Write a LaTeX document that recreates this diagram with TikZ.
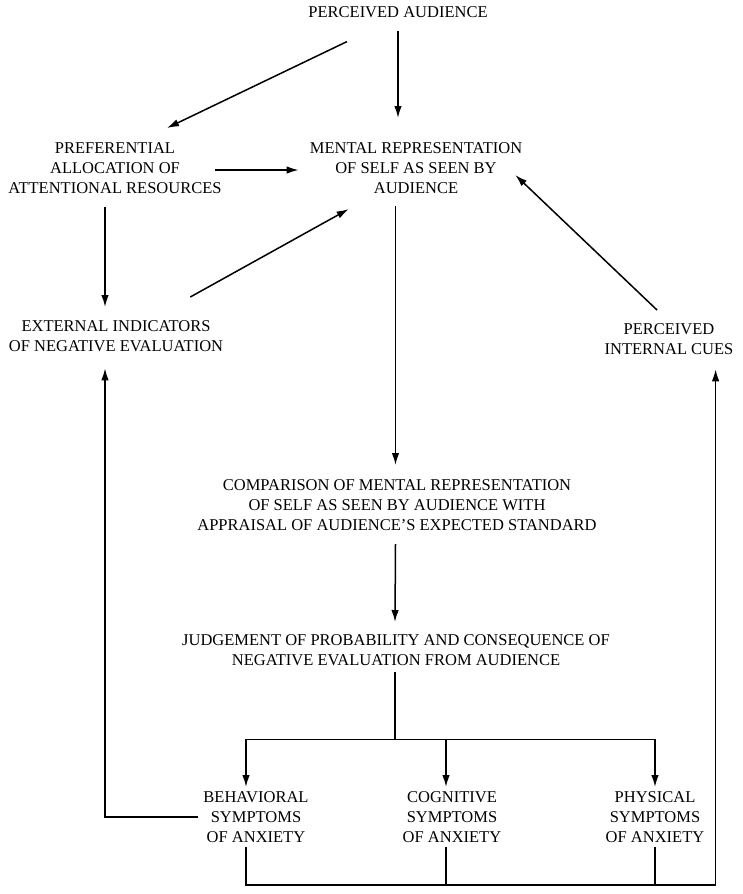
\documentclass[tikz,border=0pt]{standalone}
\usepackage{fontspec}
\setmainfont{Liberation Serif}
\usetikzlibrary{arrows.meta,calc}

\begin{document}
\begin{tikzpicture}[x=1pt, y=-1pt, font=\fontsize{16.5}{19.8}\selectfont,
  txt/.style={align=center, inner sep=0pt, anchor=north},
  arr/.style={-{Latex[length=12pt,width=7.5pt]}, line width=1.5pt},
  wire/.style={line width=1.5pt}]
  \useasboundingbox (0,0) rectangle (742,894);
  % Text blocks
  \node[txt] (aud) at (398,6.5) {PERCEIVED AUDIENCE};
  \node[txt] (pref) at (115,142.5) {PREFERENTIAL\\ALLOCATION OF\\ATTENTIONAL RESOURCES};
  \node[txt] (ment) at (416,142.5) {MENTAL REPRESENTATION\\OF SELF AS SEEN BY\\AUDIENCE};
  \node[txt] (ext) at (116,320.5) {EXTERNAL INDICATORS\\OF NEGATIVE EVALUATION};
  \node[txt] (cues) at (669,323.5) {PERCEIVED\\INTERNAL CUES};
  \node[txt] (comp) at (397,479.5) {COMPARISON OF MENTAL REPRESENTATION\\OF SELF AS SEEN BY AUDIENCE WITH\\APPRAISAL OF AUDIENCE’S EXPECTED STANDARD};
  \node[txt] (judg) at (396,634.5) {JUDGEMENT OF PROBABILITY AND CONSEQUENCE OF\\NEGATIVE EVALUATION FROM AUDIENCE};
  \node[txt] (beh) at (256,791.5) {BEHAVIORAL\\SYMPTOMS\\OF ANXIETY};
  \node[txt] (cog) at (452,791.5) {COGNITIVE\\SYMPTOMS\\OF ANXIETY};
  \node[txt] (phys) at (655,791.5) {PHYSICAL\\SYMPTOMS\\OF ANXIETY};

  % Arrows in the upper part
  \draw[arr] ($(aud.south)+(0,12.5)$) -- ($(aud.south |- ment.north)+(0,-24.5)$);
  \draw[arr] ($(aud.south)+(-51,23.5)$) -- ($(pref.north)+(52,-14.5)$);
  \draw[arr] ($(pref.east)+(-7,2)$) -- ($(pref.east -| ment.west)+(-11,2)$);
  \draw[arr] ($(pref.south)+(-10,13.5)$) -- ($(ext.north)+(-11,-13.5)$);
  \draw[arr] ($(ext.north east)+(-33,-23.5)$) -- ($(ment.south west)+(39,15.5)$);
  \draw[arr] ($(cues.north)+(-12,-13.5)$) -- ($(ment.east)+(-7,7)$);
  \draw[arr] ($(comp.north |- ment.south)+(-1.5,12.5)$) -- ($(comp.north)+(-1.5,-14.5)$);
  \draw[arr] ($(comp.south)+(-1.5,13.5)$) -- ($(judg.north)+(-1,-12.5)$);

  % Split to the symptoms
  \coordinate (split) at ($(judg.south)+(-1,73.5)$);
  \coordinate (cogin) at ($(cog.north)+(-6,-4.5)$);
  \draw[wire] ($(judg.south)+(-1,6.5)$) -- (split);
  \draw[arr] (split) -| ($(beh.north)+(-10,-4.5)$);
  \draw[arr] (split) -| ($(phys.north)+(0,-4.5)$);
  \draw[arr] (cogin |- split) -- (cogin);

  % Feedback paths
  \draw[arr] ($(beh.west)+(-5,0)$) -| ($(ext.south)+(-11,16.5)$);
  \coordinate (low) at ($(beh.south)+(-10,42.5)$);
  \coordinate (cogout) at ($(cog.south)+(-6,4.5)$);
  \draw[arr] ($(beh.south)+(-10,4.5)$) -- (low) -| ($(cues.south east)+(-18,14.5)$);
  \draw[wire] (cogout) -- (cogout |- low);
  \draw[wire] ($(phys.south)+(0,4.5)$) -- (phys.south |- low);
\end{tikzpicture}
\end{document}
